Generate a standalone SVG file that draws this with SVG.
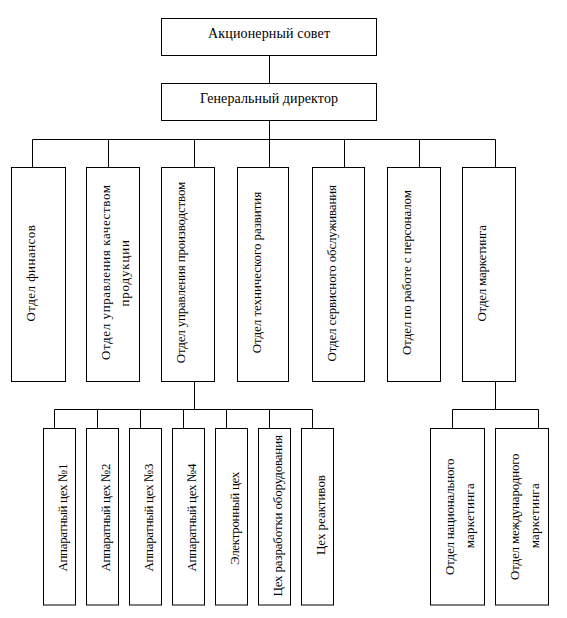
<svg xmlns="http://www.w3.org/2000/svg" width="567" height="618" viewBox="0 0 567 618">
<style>
  .box { fill: #ffffff; stroke: #000000; stroke-width: 1; }
  .ln { fill: none; stroke: #000000; stroke-width: 1; }
  .t { font-family: "Liberation Serif", "Times New Roman", serif; font-size: 14px; fill: #000000; text-anchor: middle; }
  .v { font-family: "Liberation Serif", "Times New Roman", serif; font-size: 13px; fill: #000000; text-anchor: middle; }
</style>
<rect width="567" height="618" fill="#ffffff"/>
<g id="connectors">
  <path class="ln" d="M269.5 55.5V83.5 M269.5 120.5V139.5 M32.5 139.5H495.5 M32.5 139.5V167.5 M108.5 139.5V167.5 M194.5 139.5V167.5 M269.5 139.5V167.5 M344.5 139.5V167.5 M419.5 139.5V167.5 M495.5 139.5V167.5"/>
  <path class="ln" d="M194.5 381.5V409.5 M54.5 409.5H312.5 M54.5 409.5V428.5 M97.5 409.5V428.5 M140.5 409.5V428.5 M183.5 409.5V428.5 M226.5 409.5V428.5 M269.5 409.5V428.5 M312.5 409.5V428.5"/>
  <path class="ln" d="M495.5 381.5V409.5 M452.5 409.5H538.5 M452.5 409.5V428.5 M538.5 409.5V428.5"/>
</g>
<g id="board">
  <rect class="box" x="161.5" y="18.5" width="215" height="37"/>
  <text class="t" x="269" y="38" textLength="122">Акционерный совет</text>
</g>
<g id="director">
  <rect class="box" x="161.5" y="83.5" width="215" height="37"/>
  <text class="t" x="269" y="102.5" textLength="138">Генеральный директор</text>
</g>
<g id="finance">
  <rect class="box" x="11.5" y="167.5" width="54" height="214"/>
  <text class="v" transform="translate(35,273.3) rotate(-90)" textLength="96.5">Отдел финансов</text>
</g>
<g id="quality">
  <rect class="box" x="86.5" y="167.5" width="53" height="214"/>
  <text class="v" transform="translate(109.5,272.5) rotate(-90)" textLength="175">Отдел управления качеством</text>
  <text class="v" transform="translate(129,273.3) rotate(-90)" textLength="66.5">продукции</text>
</g>
<g id="production">
  <rect class="box" x="161.5" y="167.5" width="53" height="214"/>
  <text class="v" transform="translate(184.5,272.5) rotate(-90)" textLength="181.5">Отдел управления производством</text>
</g>
<g id="techdev">
  <rect class="box" x="237.5" y="167.5" width="51" height="214"/>
  <text class="v" transform="translate(260.5,272.5) rotate(-90)" textLength="161.5">Отдел технического развития</text>
</g>
<g id="service">
  <rect class="box" x="312.5" y="167.5" width="52" height="214"/>
  <text class="v" transform="translate(336,273.3) rotate(-90)" textLength="176.5">Отдел сервисного обслуживания</text>
</g>
<g id="personnel">
  <rect class="box" x="387.5" y="167.5" width="53" height="214"/>
  <text class="v" transform="translate(411,272.5) rotate(-90)" textLength="165">Отдел по работе с персоналом</text>
</g>
<g id="marketing">
  <rect class="box" x="462.5" y="167.5" width="53" height="214"/>
  <text class="v" transform="translate(486,273.3) rotate(-90)" textLength="96.5">Отдел маркетинга</text>
</g>
<g id="shop1">
  <rect class="box" x="43.5" y="428.5" width="32" height="176.5"/>
  <text class="v" transform="translate(67,517.5) rotate(-90)" textLength="108">Аппаратный цех №1</text>
</g>
<g id="shop2">
  <rect class="box" x="86.5" y="428.5" width="32" height="176.5"/>
  <text class="v" transform="translate(110,517.5) rotate(-90)" textLength="108">Аппаратный цех №2</text>
</g>
<g id="shop3">
  <rect class="box" x="129.5" y="428.5" width="32" height="176.5"/>
  <text class="v" transform="translate(153,517.5) rotate(-90)" textLength="108">Аппаратный цех №3</text>
</g>
<g id="shop4">
  <rect class="box" x="172.5" y="428.5" width="32" height="176.5"/>
  <text class="v" transform="translate(196,517.5) rotate(-90)" textLength="108">Аппаратный цех №4</text>
</g>
<g id="electronic">
  <rect class="box" x="215.5" y="428.5" width="32" height="176.5"/>
  <text class="v" transform="translate(239,518.3) rotate(-90)" textLength="93.3">Электронный цех</text>
</g>
<g id="equipment">
  <rect class="box" x="258.5" y="428.5" width="32" height="176.5"/>
  <text class="v" transform="translate(281.5,515.8) rotate(-90)" textLength="161.5">Цех разработки оборудования</text>
</g>
<g id="reagents">
  <rect class="box" x="301.5" y="428.5" width="32" height="176.5"/>
  <text class="v" transform="translate(325,515) rotate(-90)" textLength="80">Цех реактивов</text>
</g>
<g id="national">
  <rect class="box" x="430.5" y="428.5" width="54" height="176.5"/>
  <text class="v" transform="translate(454,516.7) rotate(-90)" textLength="116.5">Отдел национального</text>
  <text class="v" transform="translate(473.5,515.8) rotate(-90)" textLength="65">маркетинга</text>
</g>
<g id="international">
  <rect class="box" x="495.5" y="428.5" width="53" height="176.5"/>
  <text class="v" transform="translate(519,516.7) rotate(-90)" textLength="126.5">Отдел международного</text>
  <text class="v" transform="translate(538.5,515.8) rotate(-90)" textLength="65">маркетинга</text>
</g>
</svg>
